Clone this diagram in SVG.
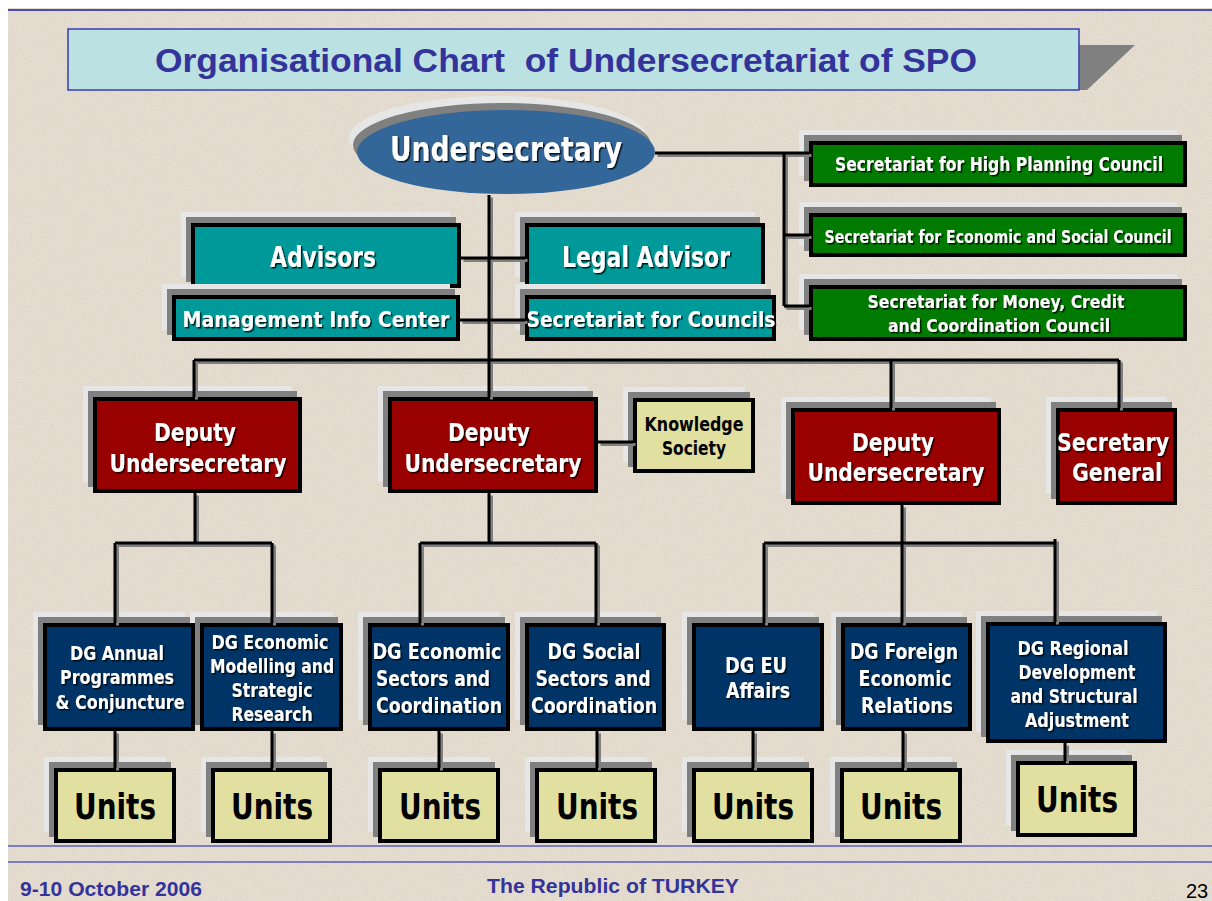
<svg xmlns="http://www.w3.org/2000/svg" xmlns:xlink="http://www.w3.org/1999/xlink" width="1212" height="901" viewBox="0 0 1212 901">
<defs>
<filter id="ts" x="-10%" y="-30%" width="130%" height="170%"><feDropShadow dx="1.5" dy="1.5" stdDeviation="0.3" flood-color="#000" flood-opacity="0.8"/></filter>
<filter id="tex" x="0" y="0" width="100%" height="100%"><feTurbulence type="fractalNoise" baseFrequency="0.9" numOctaves="2" seed="3" result="n"/><feColorMatrix in="n" type="matrix" values="0 0 0 0 0.55  0 0 0 0 0.5  0 0 0 0 0.45  0 0 0 -1.6 0.9" result="c"/><feComposite in="c" in2="SourceGraphic" operator="in"/></filter>
<path id="wires" d="M655,153H809 M784,153V306 M784,235H809 M784,306H809 M489,195V397 M461,258H525 M460,320H525 M194,360H1119 M194,360V397 M891,360V408 M1119,360V408 M598,442H633 M195,493V543 M115,543H272 M115,543V623 M272,543V623 M489,493V543 M420,543H596 M420,543V623 M596,543V623 M902,505V623 M764,543H1055 M764,543V623 M1055,539V622 M115,731V768 M272,731V768 M439,731V768 M597,731V768 M753,731V768 M903,731V768 M1065,743V761"/>
</defs>
<style>
.lt{fill:#e6e6e6}
.gr{fill:#808080}
.bx{stroke:#000;stroke-width:4}
.teal{fill:#009999}
.green{fill:#007a00}
.red{fill:#990000}
.navy{fill:#003366}
.pale{fill:#e2e0a0}
.w{fill:#fff;font-family:'DejaVu Sans Condensed','DejaVu Sans','Liberation Sans',sans-serif;font-weight:bold;text-anchor:middle;filter:url(#ts)}
.k{fill:#000;font-family:'DejaVu Sans Condensed','DejaVu Sans','Liberation Sans',sans-serif;font-weight:bold;text-anchor:middle}
.ft{fill:#333399;font-family:'Liberation Sans',Arial,sans-serif;font-weight:bold}
</style>
<rect width="1212" height="901" fill="#ffffff"/>
<rect x="8" y="8" width="1204" height="893" fill="#e5ddd0"/>
<rect x="8" y="8" width="1204" height="893" fill="#e5ddd0" filter="url(#tex)" opacity="0.5"/>
<line x1="8" y1="10" x2="1212" y2="10" stroke="#4b4bbd" stroke-width="2"/>
<line x1="8" y1="846" x2="1212" y2="846" stroke="#5a5ac0" stroke-width="1.5"/>
<line x1="8" y1="862" x2="1212" y2="862" stroke="#5a5ac0" stroke-width="1.5"/>

<g id="title">
<polygon points="1079,45 1135,45 1087,90 1079,90" fill="#808080"/>
<rect x="68" y="29" width="1011" height="61" fill="#bbe1e3" stroke="#3b3bb0" stroke-width="1.5"/>
<text x="566" y="72" class="ft" font-size="34" text-anchor="middle" textLength="822" lengthAdjust="spacingAndGlyphs">Organisational Chart&#160; of Undersecretariat of SPO</text>
</g>

<g id="undersecretary">
<ellipse cx="498" cy="138" rx="149" ry="42" fill="#e6e6e6"/>
<ellipse cx="502" cy="145" rx="149" ry="42" fill="#808080"/>
<ellipse cx="506" cy="152" rx="149" ry="42" fill="#336699"/>
<text x="506" y="161" class="w" font-size="33" textLength="232" lengthAdjust="spacingAndGlyphs">Undersecretary</text>
</g>

<g id="sec-high-planning">
<rect class="lt" x="799" y="130" width="378" height="46"/>
<rect class="gr" x="804" y="135" width="378" height="46"/>
<rect class="green bx" x="811" y="143" width="374" height="42"/>
<text x="999" y="171" class="w" font-size="19" textLength="328" lengthAdjust="spacingAndGlyphs">Secretariat for High Planning Council</text>
</g>
<g id="sec-econ-social">
<rect class="lt" x="799" y="202" width="378" height="44"/>
<rect class="gr" x="804" y="207" width="378" height="44"/>
<rect class="green bx" x="811" y="215" width="374" height="40"/>
<text x="998" y="243" class="w" font-size="17" textLength="347" lengthAdjust="spacingAndGlyphs">Secretariat for Economic and Social Council</text>
</g>
<g id="sec-money-credit">
<rect class="lt" x="799" y="274" width="378" height="56"/>
<rect class="gr" x="804" y="279" width="378" height="56"/>
<rect class="green bx" x="811" y="287" width="374" height="52"/>
<text x="996" y="308" class="w" font-size="18" textLength="257" lengthAdjust="spacingAndGlyphs">Secretariat for Money, Credit</text>
<text x="999" y="332" class="w" font-size="18" textLength="222" lengthAdjust="spacingAndGlyphs">and Coordination Council</text>
</g>

<g id="advisors">
<rect class="lt" x="181" y="212" width="270" height="65"/>
<rect class="gr" x="186" y="217" width="270" height="65"/>
<rect class="teal bx" x="193" y="225" width="266" height="61"/>
<text x="323" y="267" class="w" font-size="28" textLength="106" lengthAdjust="spacingAndGlyphs">Advisors</text>
</g>
<g id="legal-advisor">
<rect class="lt" x="515" y="212" width="240" height="65"/>
<rect class="gr" x="520" y="217" width="240" height="65"/>
<rect class="teal bx" x="527" y="225" width="236" height="61"/>
<text x="646" y="267" class="w" font-size="28" textLength="168" lengthAdjust="spacingAndGlyphs">Legal Advisor</text>
</g>
<g id="management-info-center">
<rect class="lt" x="162" y="284" width="288" height="46"/>
<rect class="gr" x="167" y="289" width="288" height="46"/>
<rect class="teal bx" x="174" y="297" width="284" height="42"/>
<text x="316" y="327" class="w" font-size="21" textLength="267" lengthAdjust="spacingAndGlyphs">Management Info Center</text>
</g>
<g id="secretariat-councils">
<rect class="lt" x="515" y="284" width="251" height="46"/>
<rect class="gr" x="520" y="289" width="251" height="46"/>
<rect class="teal bx" x="527" y="297" width="247" height="42"/>
<text x="651" y="327" class="w" font-size="21" textLength="249" lengthAdjust="spacingAndGlyphs">Secretariat for Councils</text>
</g>

<g id="deputy-1">
<rect class="lt" x="83" y="386" width="209" height="96"/>
<rect class="gr" x="88" y="391" width="209" height="96"/>
<rect class="red bx" x="95" y="399" width="205" height="92"/>
<text x="195" y="441" class="w" font-size="25" textLength="82" lengthAdjust="spacingAndGlyphs">Deputy</text>
<text x="198" y="472" class="w" font-size="25" textLength="177" lengthAdjust="spacingAndGlyphs">Undersecretary</text>
</g>
<g id="deputy-2">
<rect class="lt" x="378" y="386" width="210" height="96"/>
<rect class="gr" x="383" y="391" width="210" height="96"/>
<rect class="red bx" x="390" y="399" width="206" height="92"/>
<text x="489" y="441" class="w" font-size="25" textLength="82" lengthAdjust="spacingAndGlyphs">Deputy</text>
<text x="493" y="472" class="w" font-size="25" textLength="177" lengthAdjust="spacingAndGlyphs">Undersecretary</text>
</g>
<g id="knowledge-society">
<rect class="lt" x="623" y="387" width="122" height="75"/>
<rect class="gr" x="628" y="392" width="122" height="75"/>
<rect class="pale bx" x="635" y="400" width="118" height="71"/>
<text x="694" y="431" class="k" font-size="19" textLength="99" lengthAdjust="spacingAndGlyphs">Knowledge</text>
<text x="694" y="455" class="k" font-size="19" textLength="64" lengthAdjust="spacingAndGlyphs">Society</text>
</g>
<g id="deputy-3">
<rect class="lt" x="781" y="397" width="210" height="97"/>
<rect class="gr" x="786" y="402" width="210" height="97"/>
<rect class="red bx" x="793" y="410" width="206" height="93"/>
<text x="893" y="451" class="w" font-size="25" textLength="82" lengthAdjust="spacingAndGlyphs">Deputy</text>
<text x="896" y="481" class="w" font-size="25" textLength="177" lengthAdjust="spacingAndGlyphs">Undersecretary</text>
</g>
<g id="secretary-general">
<rect class="lt" x="1046" y="397" width="121" height="97"/>
<rect class="gr" x="1051" y="402" width="121" height="97"/>
<rect class="red bx" x="1058" y="410" width="117" height="93"/>
<text x="1113" y="451" class="w" font-size="25" textLength="112" lengthAdjust="spacingAndGlyphs">Secretary</text>
<text x="1117" y="481" class="w" font-size="25" textLength="90" lengthAdjust="spacingAndGlyphs">General</text>
</g>

<g id="dg-modelling">
<rect class="lt" x="190" y="612" width="143" height="108"/>
<rect class="gr" x="195" y="617" width="143" height="108"/>
<rect class="navy bx" x="202" y="625" width="139" height="104"/>
<text x="270" y="649" class="w" font-size="19" textLength="117" lengthAdjust="spacingAndGlyphs">DG Economic</text>
<text x="272" y="673" class="w" font-size="19" textLength="124" lengthAdjust="spacingAndGlyphs">Modelling and</text>
<text x="272" y="697" class="w" font-size="19" textLength="81" lengthAdjust="spacingAndGlyphs">Strategic</text>
<text x="272" y="721" class="w" font-size="19" textLength="81" lengthAdjust="spacingAndGlyphs">Research</text>
</g>
<g id="dg-annual">
<rect class="lt" x="33" y="612" width="152" height="108"/>
<rect class="gr" x="38" y="617" width="152" height="108"/>
<rect class="navy bx" x="45" y="625" width="148" height="104"/>
<text x="117" y="660" class="w" font-size="19" textLength="94" lengthAdjust="spacingAndGlyphs">DG Annual</text>
<text x="117" y="684" class="w" font-size="19" textLength="114" lengthAdjust="spacingAndGlyphs">Programmes</text>
<text x="120" y="709" class="w" font-size="19" textLength="129" lengthAdjust="spacingAndGlyphs">&amp; Conjuncture</text>
</g>
<g id="dg-economic-sectors">
<rect class="lt" x="358" y="612" width="142" height="108"/>
<rect class="gr" x="363" y="617" width="142" height="108"/>
<rect class="navy bx" x="370" y="625" width="138" height="104"/>
<text x="437" y="659" class="w" font-size="22" textLength="129" lengthAdjust="spacingAndGlyphs">DG Economic</text>
<text x="433" y="686" class="w" font-size="22" textLength="114" lengthAdjust="spacingAndGlyphs">Sectors and</text>
<text x="439" y="713" class="w" font-size="22" textLength="126" lengthAdjust="spacingAndGlyphs">Coordination</text>
</g>
<g id="dg-social-sectors">
<rect class="lt" x="515" y="612" width="141" height="108"/>
<rect class="gr" x="520" y="617" width="141" height="108"/>
<rect class="navy bx" x="527" y="625" width="137" height="104"/>
<text x="594" y="659" class="w" font-size="22" textLength="93" lengthAdjust="spacingAndGlyphs">DG Social</text>
<text x="593" y="686" class="w" font-size="22" textLength="115" lengthAdjust="spacingAndGlyphs">Sectors and</text>
<text x="594" y="713" class="w" font-size="22" textLength="126" lengthAdjust="spacingAndGlyphs">Coordination</text>
</g>
<g id="dg-eu">
<rect class="lt" x="682" y="612" width="132" height="108"/>
<rect class="gr" x="687" y="617" width="132" height="108"/>
<rect class="navy bx" x="694" y="625" width="128" height="104"/>
<text x="756" y="673" class="w" font-size="22" textLength="62" lengthAdjust="spacingAndGlyphs">DG EU</text>
<text x="758" y="698" class="w" font-size="22" textLength="64" lengthAdjust="spacingAndGlyphs">Affairs</text>
</g>
<g id="dg-foreign">
<rect class="lt" x="831" y="612" width="131" height="108"/>
<rect class="gr" x="836" y="617" width="131" height="108"/>
<rect class="navy bx" x="843" y="625" width="127" height="104"/>
<text x="904" y="659" class="w" font-size="22" textLength="108" lengthAdjust="spacingAndGlyphs">DG Foreign</text>
<text x="905" y="686" class="w" font-size="22" textLength="93" lengthAdjust="spacingAndGlyphs">Economic</text>
<text x="907" y="713" class="w" font-size="22" textLength="92" lengthAdjust="spacingAndGlyphs">Relations</text>
</g>
<g id="dg-regional">
<rect class="lt" x="976" y="611" width="181" height="121"/>
<rect class="gr" x="981" y="616" width="181" height="121"/>
<rect class="navy bx" x="988" y="624" width="177" height="117"/>
<text x="1073" y="655" class="w" font-size="19" textLength="111" lengthAdjust="spacingAndGlyphs">DG Regional</text>
<text x="1077" y="679" class="w" font-size="19" textLength="117" lengthAdjust="spacingAndGlyphs">Development</text>
<text x="1074" y="703" class="w" font-size="19" textLength="127" lengthAdjust="spacingAndGlyphs">and Structural</text>
<text x="1077" y="727" class="w" font-size="19" textLength="104" lengthAdjust="spacingAndGlyphs">Adjustment</text>
</g>

<g id="units-1">
<rect class="lt" x="44" y="757" width="122" height="75"/>
<rect class="gr" x="49" y="762" width="122" height="75"/>
<rect class="pale bx" x="56" y="770" width="118" height="71"/>
<text x="115" y="819" class="k" font-size="36" textLength="82" lengthAdjust="spacingAndGlyphs">Units</text>
</g>
<g id="units-2">
<rect class="lt" x="201" y="757" width="121" height="75"/>
<rect class="gr" x="206" y="762" width="121" height="75"/>
<rect class="pale bx" x="213" y="770" width="117" height="71"/>
<text x="272" y="819" class="k" font-size="36" textLength="82" lengthAdjust="spacingAndGlyphs">Units</text>
</g>
<g id="units-3">
<rect class="lt" x="368" y="757" width="122" height="75"/>
<rect class="gr" x="373" y="762" width="122" height="75"/>
<rect class="pale bx" x="380" y="770" width="118" height="71"/>
<text x="440" y="819" class="k" font-size="36" textLength="82" lengthAdjust="spacingAndGlyphs">Units</text>
</g>
<g id="units-4">
<rect class="lt" x="525" y="757" width="122" height="75"/>
<rect class="gr" x="530" y="762" width="122" height="75"/>
<rect class="pale bx" x="537" y="770" width="118" height="71"/>
<text x="597" y="819" class="k" font-size="36" textLength="82" lengthAdjust="spacingAndGlyphs">Units</text>
</g>
<g id="units-5">
<rect class="lt" x="682" y="757" width="122" height="75"/>
<rect class="gr" x="687" y="762" width="122" height="75"/>
<rect class="pale bx" x="694" y="770" width="118" height="71"/>
<text x="753" y="819" class="k" font-size="36" textLength="82" lengthAdjust="spacingAndGlyphs">Units</text>
</g>
<g id="units-6">
<rect class="lt" x="830" y="757" width="122" height="75"/>
<rect class="gr" x="835" y="762" width="122" height="75"/>
<rect class="pale bx" x="842" y="770" width="118" height="71"/>
<text x="901" y="819" class="k" font-size="36" textLength="82" lengthAdjust="spacingAndGlyphs">Units</text>
</g>
<g id="units-7">
<rect class="lt" x="1006" y="750" width="121" height="76"/>
<rect class="gr" x="1011" y="755" width="121" height="76"/>
<rect class="pale bx" x="1018" y="763" width="117" height="72"/>
<text x="1077" y="812" class="k" font-size="36" textLength="82" lengthAdjust="spacingAndGlyphs">Units</text>
</g>

<g id="connectors" fill="none" stroke-width="3">
<use xlink:href="#wires" href="#wires" stroke="#808080" transform="translate(2.5,2.5)"/>
<use xlink:href="#wires" href="#wires" stroke="#000"/>
</g>

<g id="footer">
<text x="20" y="896" class="ft" font-size="20" textLength="182" lengthAdjust="spacingAndGlyphs">9-10 October 2006</text>
<text x="487" y="893" class="ft" font-size="20" font-weight="normal" textLength="252" lengthAdjust="spacingAndGlyphs">The Republic of TURKEY</text>
<text x="1186" y="898" font-family="'Liberation Sans',Arial,sans-serif" font-size="20" fill="#000">23</text>
</g>
</svg>
